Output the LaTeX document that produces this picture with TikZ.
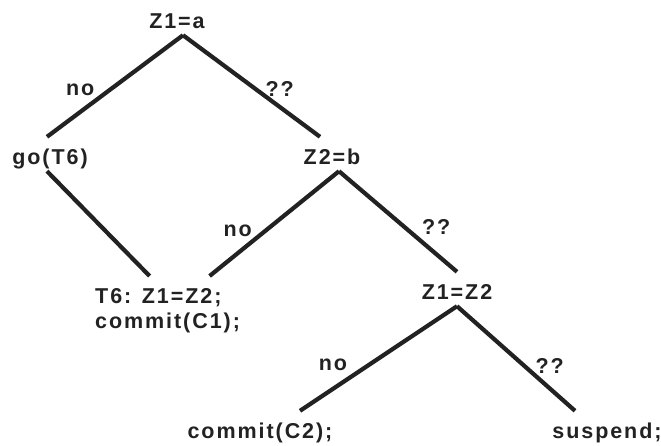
\documentclass[tikz,border=0pt]{standalone}
\usepackage{fontspec}
\setmainfont{Liberation Sans}
\newfontfamily\treefont{Liberation Sans Bold}[LetterSpace=9]
\usepackage{xcolor}
\definecolor{treeink}{HTML}{222222}
\usepackage{tikz}

\begin{document}
\begin{tikzpicture}[x=1pt,y=-1pt,
  cond/.style={font={\treefont\fontsize{21.5}{25}\selectfont},text=treeink,anchor=base,
    text height=21pt,text depth=1pt,inner xsep=2pt,inner ysep=6pt},
  note/.style={font={\treefont\fontsize{21.5}{25}\selectfont},text=treeink,align=left,
    inner xsep=0pt,inner ysep=6pt},
  branch/.style={draw=treeink,line width=4.2pt},
  ans/.style={font={\treefont\fontsize{21.5}{25}\selectfont},text=treeink,inner sep=1pt}]
\useasboundingbox (0,0) rectangle (661,445);

\node[cond] (za) at (177,28) {Z1=a};
\node[cond] (gotsix) at (50,164) {go(T6)};
\node[cond] (zb) at (332,164) {Z2=b};
\node[note,anchor=north west] (tsix) at (95,276) {\rule{0pt}{21pt}T6: Z1=Z2;\\commit(C1);};
\node[cond] (zz) at (457,299) {Z1=Z2};
\node[cond] (ctwo) at (260,438) {commit(C2);};
\node[cond] (susp) at (607,438) {suspend;};

\draw[branch] ([xshift=6pt]za.south) -- ([xshift=-3pt]gotsix.north)
  node[ans,pos=.63,anchor=south east]{no};
\draw[branch] ([xshift=6pt]za.south) -- ([xshift=-12pt]zb.north)
  node[ans,pos=.58,anchor=south west,yshift=-5pt]{??};
\draw[branch] ([xshift=-3pt]gotsix.south) -- ([xshift=-18pt]tsix.north);
\draw[branch] ([xshift=7pt]zb.south) -- ([xshift=42pt]tsix.north)
  node[ans,pos=.65,anchor=south east]{no};
\draw[branch] ([xshift=7pt]zb.south) -- (zz.north)
  node[ans,pos=.61,anchor=south west,xshift=8pt,yshift=-5pt]{??};
\draw[branch] (zz.south) -- ([xshift=40pt]ctwo.north)
  node[ans,pos=.7,anchor=south east,xshift=3pt,yshift=6pt]{no};
\draw[branch] (zz.south) -- ([xshift=-32pt]susp.north)
  node[ans,pos=.64,anchor=south west,yshift=-3pt]{??};
\end{tikzpicture}
\end{document}
